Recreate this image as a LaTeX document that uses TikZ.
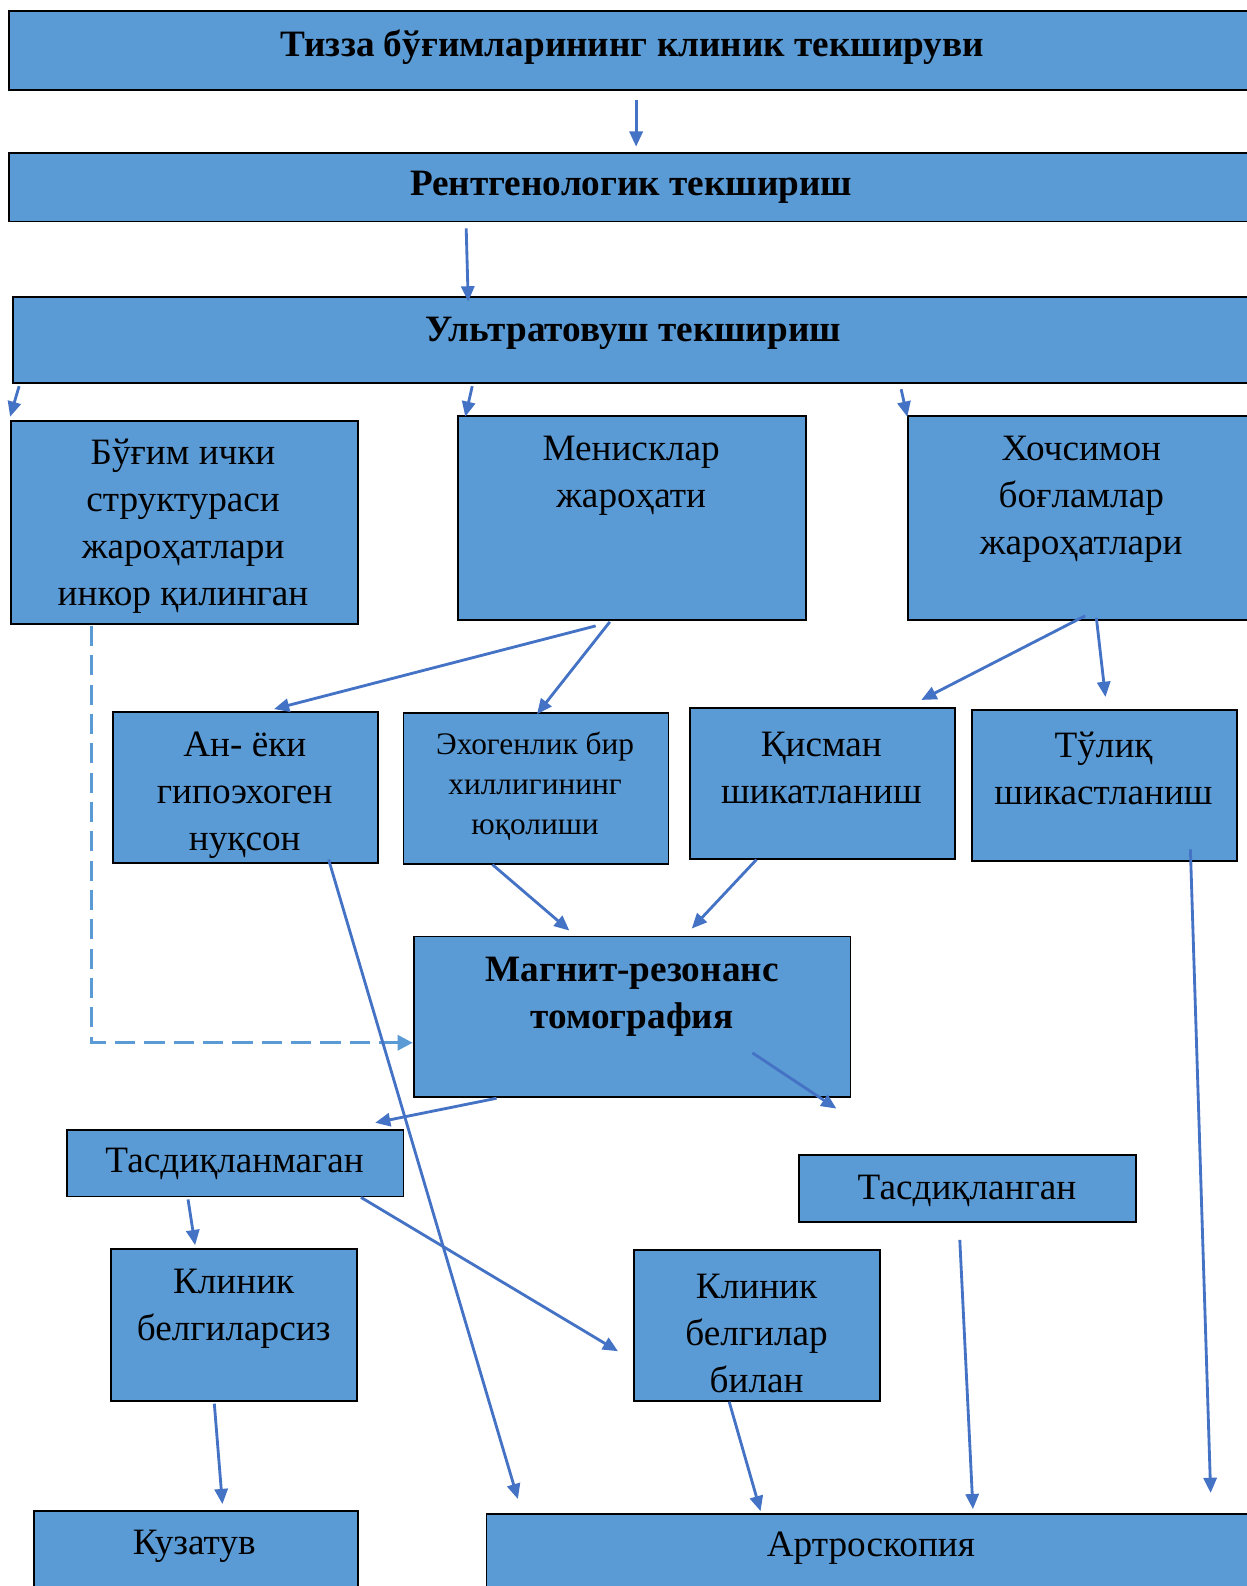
\documentclass[tikz,border=0pt]{standalone}
\usepackage{fontspec}
\setmainfont{Liberation Serif}
\usetikzlibrary{arrows.meta}
\usetikzlibrary{positioning}
\definecolor{boxblue}{HTML}{5B9BD5}
\definecolor{arrowblue}{HTML}{4472C4}
\tikzset{
	box/.style={draw=black, line width=1.8pt, fill=boxblue, anchor=north west, inner sep=0pt},
	txt/.style={align=center, inner sep=0pt, font=\fontsize{36.8}{46.5}\selectfont},
	txtsmall/.style={align=center, inner sep=0pt, font=\fontsize{31}{39.5}\selectfont},
	txtbold/.style={align=center, inner sep=0pt, font=\fontsize{36.8}{46.5}\selectfont\bfseries},
	arr/.style={draw=arrowblue, line width=2.8pt, -{Triangle[length=15pt,width=13pt]}},
	dasharr/.style={draw=boxblue, line width=3pt, dash pattern=on 20pt off 9pt, -{Triangle[length=15pt,width=15pt]}}
}
\begin{document}
\begin{tikzpicture}[x=1pt,y=1pt]
	\useasboundingbox (0,0) rectangle (1232,-1568);
	
	% Top levels
	\node[box, minimum width=1234pt, minimum height=78pt] (top) at (8,-10) {};
	\node[txtbold] (topT) at (625,-47) {Тизза бўғимларининг клиник текшируви};
	\node[box, minimum width=1232pt, minimum height=68pt] (rent) at (8,-150) {};
	\node[txtbold] (rentT) at (624,-185) {Рентгенологик текшириш};
	\node[box, minimum width=1228pt, minimum height=85pt] (ultra) at (12,-293) {};
	\node[txtbold] (ultraT) at (626,-330) {Ультратовуш текшириш};
	
	% Ultrasound findings
	\node[box, minimum width=343pt, minimum height=201pt] (bugim) at (10,-415) {};
	\node[txt] (bugimT) at (181,-520) {Бўғим ички\\структураси\\жароҳатлари\\инкор қилинган};
	\node[box, minimum width=344pt, minimum height=202pt] (men) at (452,-410) {};
	\node[txt] (menT) at (624,-470) {Менисклар\\жароҳати};
	\node[box, minimum width=344pt, minimum height=202pt] (hoch) at (897,-410) {};
	\node[txt] (hochT) at (1069,-494) {Хочсимон\\боғламлар\\жароҳатлари};
	
	% Second row
	\node[box, minimum width=262pt, minimum height=149pt] (an) at (111,-703) {};
	\node[txt] (anT) at (242,-786) {Ан- ёки\\гипоэхоген\\нуқсон};
	\node[box, minimum width=262pt, minimum height=149pt] (exo) at (398,-704) {};
	\node[txtsmall] (exoT) at (529,-777) {Эхогенлик бир\\хиллигининг\\юқолиши};
	\node[box, minimum width=262pt, minimum height=149pt] (qism) at (681,-699) {};
	\node[txt] (qismT) at (812,-759) {Қисман\\шикатланиш};
	\node[box, minimum width=262pt, minimum height=149pt] (tul) at (960,-701) {};
	\node[txt] (tulT) at (1091,-760) {Тўлиқ\\шикастланиш};
	
	% MRI
	\node[box, minimum width=432pt, minimum height=159pt] (mrt) at (408,-925) {};
	\node[txtbold] (mrtT) at (625,-985) {Магнит-резонанс\\томография};
	\node[box, minimum width=333pt, minimum height=66pt] (tmag) at (65,-1116) {};
	\node[txt] (tmagT) at (232,-1151) {Тасдиқланмаган};
	\node[box, minimum width=333pt, minimum height=66pt] (tasd) at (789,-1141) {};
	\node[txt] (tasdT) at (956,-1177) {Тасдиқланган};
	
	% Clinical signs
	\node[box, minimum width=243pt, minimum height=150pt] (kbsiz) at (109,-1234) {};
	\node[txt] (kbsizT) at (231,-1294) {Клиник\\белгиларсиз};
	\node[box, minimum width=243pt, minimum height=149pt] (kbil) at (626,-1235) {};
	\node[txt] (kbilT) at (748,-1318) {Клиник\\белгилар\\билан};
	
	% Outcome
	\node[box, minimum width=320pt, minimum height=100pt] (kuz) at (33,-1493) {};
	\node[txt] (kuzT) at (192,-1529) {Кузатув};
	\node[box, minimum width=762pt, minimum height=100pt] (art) at (480,-1496) {};
	\node[txt] (artT) at (861,-1531) {Артроскопия};
	
	% Arrows
	\draw[arr] ([xshift=3pt,yshift=-9pt]top.south) -- ([xshift=4pt,yshift=5pt]rent.north);
	\draw[arr] ([xshift=-164pt,yshift=-6pt]rent.south) -- ([xshift=-164pt,yshift=-5pt]ultra.north);
	\draw[arr] ([xshift=-608pt,yshift=-2pt]ultra.south) -- ([yshift=3pt]bugim.north west);
	\draw[arr] ([xshift=-160pt,yshift=-2pt]ultra.south) -- ([xshift=8pt,yshift=-2pt]men.north west);
	\draw[arr] ([xshift=264pt,yshift=-5pt]ultra.south) -- ([yshift=-2pt]hoch.north west);
	\draw[arr] ([xshift=-36pt,yshift=-5pt]men.south) -- ([xshift=28pt,yshift=2pt]an.north);
	\draw[arr] ([xshift=-22pt,yshift=-1pt]men.south) -- ([xshift=1pt,yshift=-2pt]exo.north);
	\draw[arr] ([xshift=3pt,yshift=5pt]hoch.south) -- ([xshift=98pt,yshift=7pt]qism.north);
	\draw[arr] ([xshift=14pt,yshift=3pt]hoch.south) -- ([xshift=1pt,yshift=12pt]tul.north);
	\draw[arr] ([xshift=-43pt]exo.south) -- ([xshift=-62pt,yshift=5pt]mrt.north);
	\draw[arr] ([xshift=-65pt]qism.south) -- ([xshift=59pt,yshift=7pt]mrt.north);
	\draw[dasharr] ([xshift=-91.5pt,yshift=-1pt]bugim.south) |- ([yshift=-25.5pt]mrt.west);
	\draw[arr] ([xshift=82pt,yshift=4pt]an.south) -- ([xshift=32pt,yshift=14pt]art.north west);
	\draw[arr] ([xshift=-134pt]mrt.south) -- ([xshift=138.5pt,yshift=6pt]tmag.north);
	\draw[arr] ([xshift=119pt,yshift=-35.5pt]mrt.center) -- ([xshift=-129.5pt,yshift=45pt]tasd.north);
	\draw[arr] ([xshift=-46.5pt,yshift=-2pt]tmag.south) -- ([xshift=-38.5pt,yshift=3pt]kbsiz.north);
	\draw[arr] ([xshift=124.5pt]tmag.south) -- ([xshift=-15pt,yshift=-25.5pt]kbil.west);
	\draw[arr] ([xshift=85pt,yshift=12pt]tul.south) -- ([xshift=335pt,yshift=20pt]art.north);
	\draw[arr] ([xshift=-7.5pt,yshift=-17pt]tasd.south) -- ([xshift=100pt,yshift=4pt]art.north);
	\draw[arr] ([xshift=-19.5pt,yshift=-2pt]kbsiz.south) -- ([xshift=26pt,yshift=6pt]kuz.north);
	\draw[arr] ([xshift=-27.5pt]kbil.south) -- ([xshift=-110pt,yshift=2pt]art.north);
	
\end{tikzpicture}
\end{document}
